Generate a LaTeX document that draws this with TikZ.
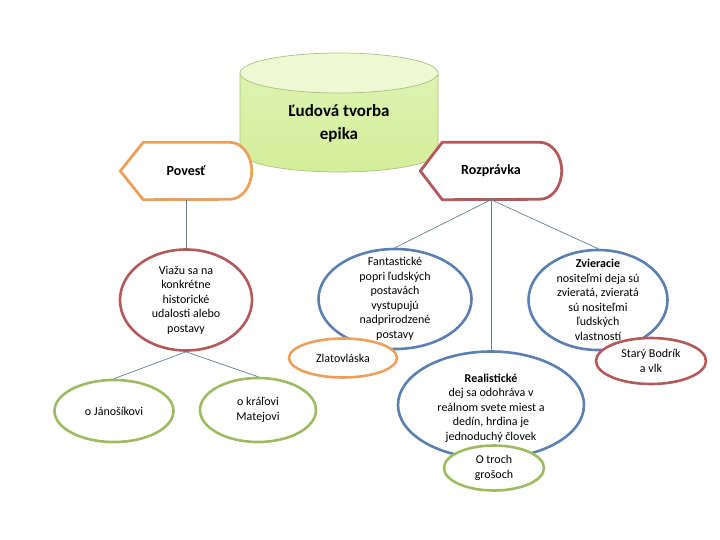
\documentclass[tikz,border=0pt]{standalone}
\usepackage{fontspec}
\setmainfont{Carlito}
\usetikzlibrary{shapes.geometric}
\definecolor{Link}{HTML}{5E7E96}
\definecolor{Orange}{HTML}{EBA15C}
\definecolor{Brick}{HTML}{B3585B}
\definecolor{Steel}{HTML}{5B80B0}
\definecolor{Olive}{HTML}{9DBB61}
\definecolor{CylEdge}{HTML}{A8C27E}
\definecolor{CylTop}{HTML}{EEF8D2}
\definecolor{CylBody}{HTML}{D3EE9A}
\tikzset{
  bubble/.style={ellipse,draw=#1,fill=white,line width=2.6pt,inner sep=0pt},
  txt/.style={align=center,font=\fontsize{12}{14.5}\selectfont,inner sep=0pt},
  disp/.style={minimum height=57,inner sep=0pt,font=\fontsize{14}{16}\selectfont\bfseries},
  dispedge/.style={draw=#1,fill=white,line width=2.8pt,line join=round},
  link/.style={draw=Link,line width=.7pt},
  cyl/.style={draw=CylEdge,line width=.7pt}
}

\begin{document}
\begin{tikzpicture}[x=1pt,y=-1pt]
  \useasboundingbox (0,0) rectangle (720,540);
  % cylinder
  \path[cyl,top color=CylTop!40!CylBody,bottom color=CylBody] (240,73) -- (240,152) arc[start angle=180,end angle=0,x radius=99,y radius=20] -- (438,73) -- cycle;
  \path[cyl,fill=CylTop] (339,73) ellipse[x radius=99,y radius=20];
  \node[txt,font=\fontsize{17}{23}\selectfont\bfseries] (epika) at (339,123) {Ľudová tvorba\\epika};
  % display shapes
  \node[disp,minimum width=131] (pov) at (186,171) {};
  \draw[dispedge=Orange] (pov.west) -- ([xshift=23pt]pov.north west) -- ([xshift=-22pt]pov.north east)
    arc[start angle=-90,end angle=90,x radius=22,y radius=28.5] -- ([xshift=23pt]pov.south west) -- cycle;
  \node[disp] at (pov.center) {Povesť};
  \node[disp,minimum width=141] (rozp) at (491,171) {};
  \draw[dispedge=Brick] (rozp.west) -- ([xshift=22pt]rozp.north west) -- ([xshift=-22pt]rozp.north east)
    arc[start angle=-90,end angle=90,x radius=22,y radius=28.5] -- ([xshift=22pt]rozp.south west) -- cycle;
  \node[disp] at (rozp.center) {Rozprávka};
  % ellipses
  \node[bubble=Brick,minimum width=132,minimum height=101] (viazu) at (186,300) {};
  \node[bubble=Olive,minimum width=119,minimum height=62] (janosik) at (114,411) {};
  \node[bubble=Olive,minimum width=116,minimum height=64] (matej) at (258,410) {};
  \node[bubble=Steel,minimum width=153,minimum height=100] (fant) at (395,299) {};
  \node[bubble=Steel,minimum width=139,minimum height=100] (zvier) at (598,300) {};
  \node[bubble=Steel,minimum width=186,minimum height=107] (real) at (491,405) {};
  \node[bubble=Orange,minimum width=108,minimum height=39] (zlato) at (343,358) {};
  \node[bubble=Brick,minimum width=110,minimum height=46] (bodrik) at (651,361) {};
  \node[bubble=Olive,minimum width=100,minimum height=45] (groše) at (494,468) {};
  % texts
  \node[txt] at (viazu.center) {Viažu sa na\\konkrétne\\historické\\udalosti alebo\\postavy};
  \node[txt] at (janosik.center) {o Jánošíkovi};
  \node[txt] at (matej.center) {o kráľovi\\Matejovi};
  \node[txt] at (fant.center) {Fantastické\\popri ľudských\\postavách\\vystupujú\\nadprirodzené\\postavy};
  \node[txt] at (zvier.center) {\textbf{Zvieracie}\\nositeľmi deja sú\\zvieratá, zvieratá\\sú nositeľmi\\ľudských\\vlastností};
  \node[txt] at ([yshift=-3pt]real.center) {\textbf{Realistické}\\dej sa odohráva v\\reálnom svete miest a\\dedín, hrdina je\\jednoduchý človek};
  \node[txt] at (zlato.center) {Zlatovláska};
  \node[txt] at (bodrik.center) {Starý Bodrík\\a vlk};
  \node[txt] at (groše.center) {O troch\\grošoch};
  % connectors
  \draw[link] (pov.south) -- (viazu.north);
  \draw[link] (viazu.south) -- (janosik.north);
  \draw[link] (viazu.south) -- (matej.north);
  \draw[link] (rozp.south) -- (fant.north);
  \draw[link] (rozp.south) -- (real.north);
  \draw[link] (rozp.south) -- (zvier.north);
\end{tikzpicture}
\end{document}
